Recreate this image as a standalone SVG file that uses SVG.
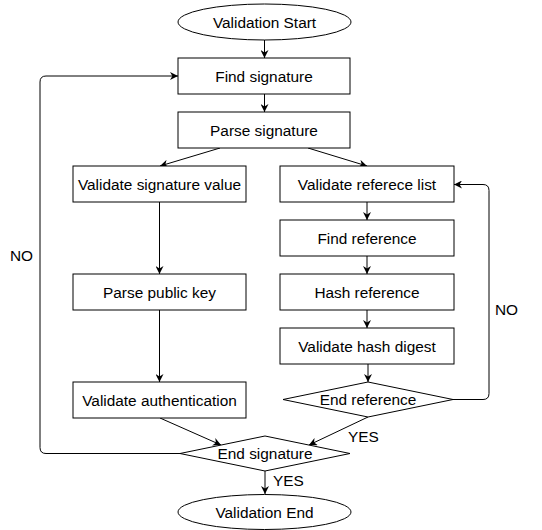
<svg xmlns="http://www.w3.org/2000/svg" width="542" height="530" viewBox="0 0 542 530">
<style>
.s{fill:#fff;stroke:#000;stroke-width:1}
.t{font-family:"Liberation Sans",Arial,sans-serif;font-size:15.4px;fill:#000;text-anchor:middle}
.l{font-family:"Liberation Sans",Arial,sans-serif;font-size:15.4px;fill:#000}
.c{fill:none;stroke:#000;stroke-width:1}
</style>
<defs>
<marker id="a" viewBox="0 0 10 10" refX="10" refY="5" markerWidth="8" markerHeight="8" markerUnits="userSpaceOnUse" orient="auto">
<path d="M0,0 L10,5 L0,10 L3,5 Z" fill="#000"/>
</marker>
</defs>
<rect width="542" height="530" fill="#fff"/>
<g id="connectors">
<path class="c" d="M264.5,40 V58" marker-end="url(#a)"/>
<path class="c" d="M264.5,94 V112" marker-end="url(#a)"/>
<path class="c" d="M220,148 L160,166" marker-end="url(#a)"/>
<path class="c" d="M308,148 L367,166" marker-end="url(#a)"/>
<path class="c" d="M159.5,202 V274" marker-end="url(#a)"/>
<path class="c" d="M159.5,310 V382" marker-end="url(#a)"/>
<path class="c" d="M160,418 L221,445" marker-end="url(#a)"/>
<path class="c" d="M367,202 V220" marker-end="url(#a)"/>
<path class="c" d="M367,256 V274" marker-end="url(#a)"/>
<path class="c" d="M367,310 V328" marker-end="url(#a)"/>
<path class="c" d="M368,364 V382" marker-end="url(#a)"/>
<path class="c" d="M368,417 L309,445" marker-end="url(#a)"/>
<path class="c" d="M265,471 V494" marker-end="url(#a)"/>
<path class="c" d="M180,453.5 H46 Q40,453.5 40,447.5 V82 Q40,76 46,76 H178" marker-end="url(#a)"/>
<path class="c" d="M453,399.5 H483 Q489,399.5 489,393.5 V190.5 Q489,184.5 483,184.5 H454" marker-end="url(#a)"/>
<text class="l" x="10" y="261">NO</text>
<text class="l" x="495" y="315">NO</text>
<text class="l" x="348" y="442">YES</text>
<text class="l" x="273" y="486">YES</text>
</g>
<g id="start"><ellipse class="s" cx="264.5" cy="22" rx="86.5" ry="18"/><text class="t" x="264.5" y="27.5">Validation Start</text></g>
<g id="find-signature"><rect class="s" x="178" y="58" width="172" height="36"/><text class="t" x="264" y="81.5">Find signature</text></g>
<g id="parse-signature"><rect class="s" x="178" y="112" width="172" height="36"/><text class="t" x="264" y="135.5">Parse signature</text></g>
<g id="validate-signature-value"><rect class="s" x="73" y="166" width="173" height="36"/><text class="t" x="159.5" y="189.5">Validate signature value</text></g>
<g id="parse-public-key"><rect class="s" x="73" y="274" width="173" height="36"/><text class="t" x="159.5" y="297.5">Parse public key</text></g>
<g id="validate-authentication"><rect class="s" x="73" y="382" width="173" height="36"/><text class="t" x="159.5" y="405.5">Validate authentication</text></g>
<g id="validate-reference-list"><rect class="s" x="280" y="166" width="174" height="36"/><text class="t" x="367" y="189.5">Validate referece list</text></g>
<g id="find-reference"><rect class="s" x="280" y="220" width="174" height="36"/><text class="t" x="367" y="243.5">Find reference</text></g>
<g id="hash-reference"><rect class="s" x="280" y="274" width="174" height="36"/><text class="t" x="367" y="297.5">Hash reference</text></g>
<g id="validate-hash-digest"><rect class="s" x="280" y="328" width="174" height="36"/><text class="t" x="367" y="351.5">Validate hash digest</text></g>
<g id="end-reference"><polygon class="s" points="283,399.5 368,382 453,399.5 368,417"/><text class="t" x="368" y="405">End reference</text></g>
<g id="end-signature"><polygon class="s" points="180,453.5 265,436 350,453.5 265,471"/><text class="t" x="265" y="459">End signature</text></g>
<g id="end"><ellipse class="s" cx="264.5" cy="512" rx="86.5" ry="17.5"/><text class="t" x="264.5" y="517.5">Validation End</text></g>
</svg>
